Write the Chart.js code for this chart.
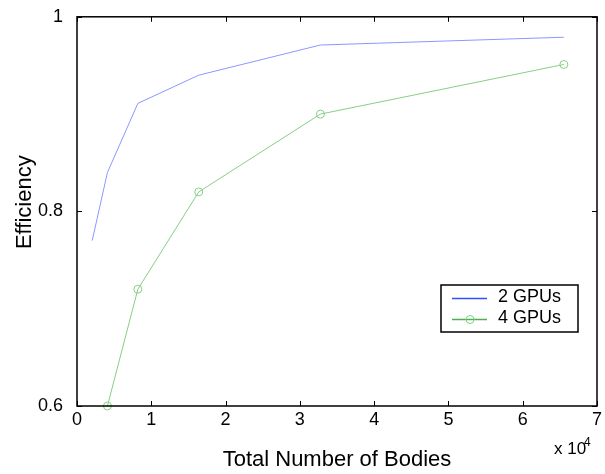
<!DOCTYPE html>
<html>
<head>
<meta charset="utf-8">
<script src="https://cdn.jsdelivr.net/npm/chart.js@4"></script>
<style>
  body { margin: 0; background: #fff; }
  canvas { display: block; }
</style>
</head>
<body>
<canvas id="chart" width="605" height="474"></canvas>
<script>
// values
const bodies2 = [2048, 4096, 8192, 16384, 32768, 65536];
const eff2 = [0.77, 0.84, 0.911, 0.94, 0.971, 0.979];
const bodies4 = [4096, 8192, 16384, 32768, 65536];
const eff4 = [0.60, 0.72, 0.82, 0.90, 0.951];
const seriesLabels = ['2 GPUs', '4 GPUs'];
const xTickLabels = ['0', '1', '2', '3', '4', '5', '6', '7'];
const yTickLabels = {0.6: '0.6', 0.8: '0.8', 1: '1'};

const FONT = "'Liberation Sans', Arial, Helvetica, sans-serif";
const blue = '#8a98ff';
const green = '#86cf86';

const toPoints = (xs, ys) => xs.map((x, i) => ({x: x, y: ys[i]}));

// frame, inward ticks on all four sides, legend box and the x10^4 mark
const matlabBits = {
    id: 'matlabBits',
    afterDatasetsDraw(chart) {
        const ctx = chart.ctx;
        const a = chart.chartArea;
        const xs = chart.scales.x, ys = chart.scales.y;
        ctx.save();
        ctx.strokeStyle = '#000';
        ctx.lineWidth = 1.5;
        ctx.strokeRect(a.left, a.top, a.right - a.left, a.bottom - a.top);

        ctx.lineWidth = 1;
        const tl = 5;
        xs.ticks.forEach(t => {
            const px = Math.round(xs.getPixelForValue(t.value)) + 0.5;
            ctx.beginPath();
            ctx.moveTo(px, a.bottom); ctx.lineTo(px, a.bottom - tl);
            ctx.moveTo(px, a.top); ctx.lineTo(px, a.top + tl);
            ctx.stroke();
        });
        ys.ticks.forEach(t => {
            const py = Math.round(ys.getPixelForValue(t.value)) + 0.5;
            ctx.beginPath();
            ctx.moveTo(a.left, py); ctx.lineTo(a.left + tl, py);
            ctx.moveTo(a.right, py); ctx.lineTo(a.right - tl, py);
            ctx.stroke();
        });

        // legend
        const bx = 441, by = 285, bw = 137, bh = 47;
        ctx.fillStyle = '#fff';
        ctx.fillRect(bx, by, bw, bh);
        ctx.lineWidth = 1.5;
        ctx.strokeRect(bx, by, bw, bh);
        ctx.strokeStyle = '#3050ff';
        ctx.beginPath(); ctx.moveTo(452, 298.5); ctx.lineTo(487, 298.5); ctx.stroke();
        ctx.strokeStyle = '#4cb04c';
        ctx.beginPath(); ctx.moveTo(452, 319.5); ctx.lineTo(487, 319.5); ctx.stroke();
        ctx.lineWidth = 1;
        ctx.strokeStyle = green;
        ctx.beginPath(); ctx.arc(470, 319.5, 4, 0, Math.PI * 2); ctx.stroke();
        ctx.fillStyle = '#000';
        ctx.font = '18px ' + FONT;
        ctx.textBaseline = 'alphabetic';
        ctx.fillText(seriesLabels[0], 498, 302);
        ctx.fillText(seriesLabels[1], 498, 323);

        // exponent label
        ctx.font = '17px ' + FONT;
        ctx.fillText('x 10', 554, 454);
        ctx.font = '12px ' + FONT;
        ctx.fillText('4', 584, 446);
        ctx.restore();
    }
};

new Chart(document.getElementById('chart'), {
    type: 'line',
    data: {
        datasets: [{
            label: seriesLabels[0],
            data: toPoints(bodies2, eff2),
            borderColor: blue,
            borderWidth: 1,
            pointRadius: 0,
            tension: 0,
            fill: false,
            clip: false
        }, {
            label: seriesLabels[1],
            data: toPoints(bodies4, eff4),
            borderColor: green,
            borderWidth: 1,
            pointRadius: 4,
            pointBorderColor: green,
            pointBackgroundColor: 'rgba(0,0,0,0)',
            pointBorderWidth: 1,
            tension: 0,
            fill: false,
            clip: false
        }]
    },
    options: {
        responsive: false,
        animation: false,
        layout: {padding: {top: 16, right: 8, left: 0, bottom: 0}},
        plugins: {legend: {display: false}, tooltip: {enabled: false}},
        scales: {
            x: {
                type: 'linear',
                min: 0,
                max: 70000,
                grid: {display: false},
                border: {display: false},
                ticks: {
                    stepSize: 10000,
                    maxRotation: 0,
                    padding: -5,
                    color: '#000',
                    font: {family: FONT, size: 18},
                    callback: v => xTickLabels[Math.round(v / 10000)]
                },
                title: {
                    display: true,
                    text: 'Total Number of Bodies',
                    color: '#000',
                    font: {family: FONT, size: 22},
                    padding: {top: 0, bottom: 1}
                },
                afterFit: s => { s.height = 68; }
            },
            y: {
                type: 'linear',
                min: 0.6,
                max: 1,
                grid: {display: false},
                border: {display: false},
                ticks: {
                    stepSize: 0.2,
                    padding: 6,
                    color: '#000',
                    font: {family: FONT, size: 18},
                    callback: v => yTickLabels[Math.round(v * 10) / 10]
                },
                title: {
                    display: true,
                    // leading spaces nudge the label up, as in the original
                    text: '\u00a0\u00a0\u00a0Efficiency',
                    color: '#000',
                    font: {family: FONT, size: 22},
                    padding: {top: 12, bottom: 0}
                },
                afterFit: s => { s.width = 77; }
            }
        }
    },
    plugins: [matlabBits]
});
</script>
</body>
</html>
